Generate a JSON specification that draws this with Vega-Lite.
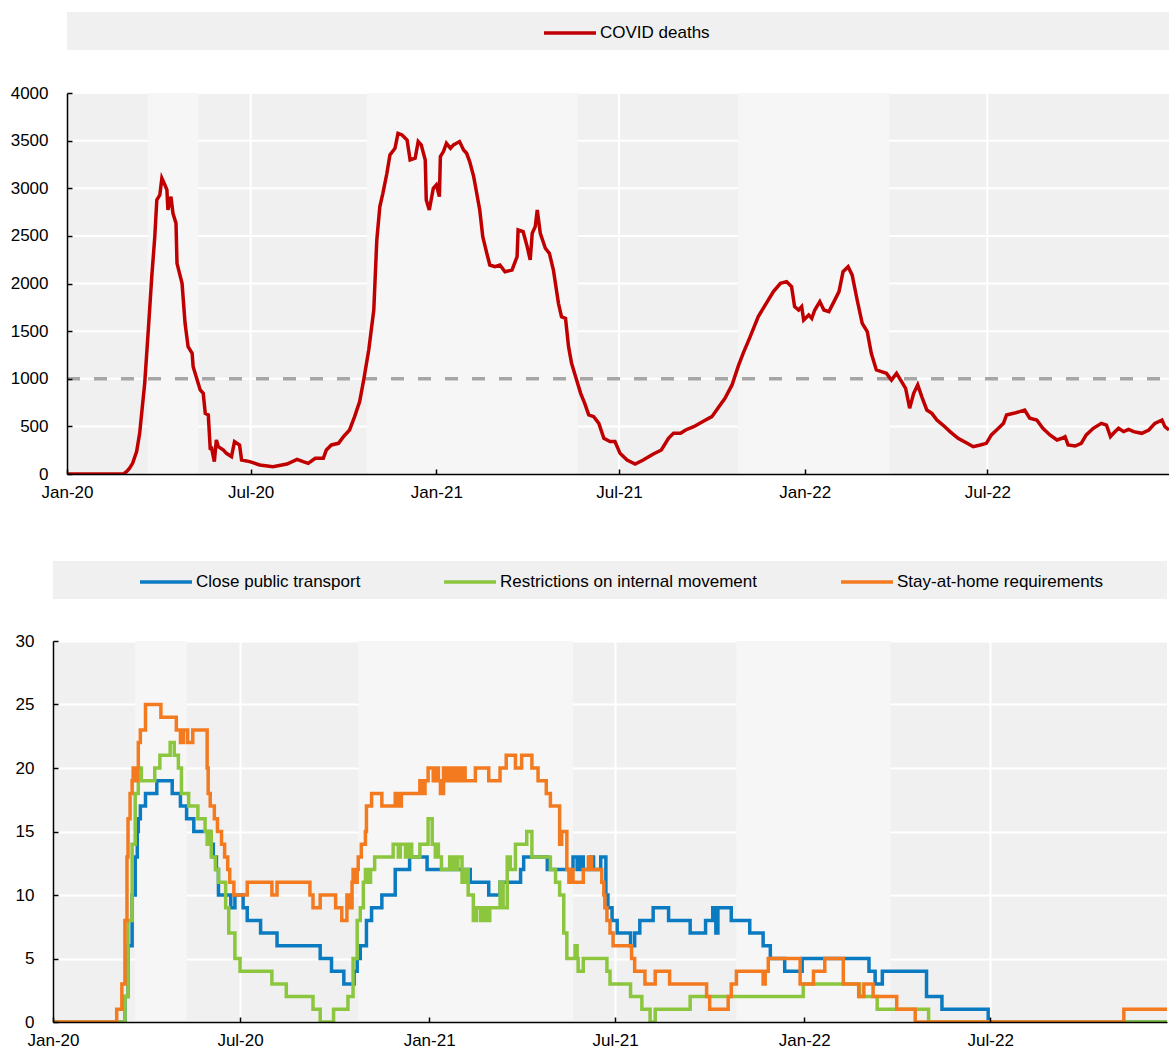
{
  "$schema": "https://vega.github.io/schema/vega-lite/v6.json",
  "padding": {"left": 5, "top": 5, "right": 0, "bottom": 0},
  "background": "white",
  "config": {
    "view": {"stroke": null},
    "axis": {"labelFont": "Liberation Sans", "labelFontSize": 17, "labelColor": "#000000", "title": null},
    "legend": {"labelFont": "Liberation Sans", "labelFontSize": 17, "labelColor": "#000000", "labelLimit": 500}
  },
  "resolve": {"scale": {"color": "independent"}, "legend": {"color": "independent"}},
  "spacing": 54,
  "vconcat": [
    {
      "bounds": "flush",
      "spacing": 43,
      "vconcat": [
        {
          "width": 1116, "height": 38,
          "data": {"values": [{"start": "2020-01-01", "end": "2022-12-28"}]},
          "mark": {"type": "rect", "color": "#f0f0f0"},
          "encoding": {
            "x": {"field": "start", "type": "temporal", "axis": null,
              "scale": {"type": "utc", "domain": [{"year": 2020, "month": 1, "date": 1, "utc": true}, {"year": 2022, "month": 12, "date": 28, "utc": true}], "range": [14, 1116]}},
            "x2": {"field": "end"}
          }
        },
        {
          "width": 1116, "height": 381,
          "resolve": {"axis": {"x": "independent", "y": "independent"}},
          "layer": [
            {
              "data": {"values": [{"start": "2020-01-01", "end": "2022-12-28"}]},
              "mark": {"type": "rect", "color": "#f0f0f0"},
              "encoding": {
                "x": {"field": "start", "type": "temporal", "axis": null,
                  "scale": {"type": "utc", "domain": [{"year": 2020, "month": 1, "date": 1, "utc": true}, {"year": 2022, "month": 12, "date": 28, "utc": true}], "range": [14, 1116]}},
                "x2": {"field": "end"}
              }
            },
            {
              "data": {"values": [{"level": 500}, {"level": 1000}, {"level": 1500}, {"level": 2000}, {"level": 2500}, {"level": 3000}, {"level": 3500}, {"level": 4000}]},
              "mark": {"type": "rule", "color": "#ffffff", "strokeWidth": 2},
              "encoding": {
                "y": {"field": "level", "type": "quantitative", "axis": null, "scale": {"domain": [0, 4000], "nice": false}}
              }
            },
            {
              "data": {"values": [{"tick": "2020-07-01"}, {"tick": "2021-01-01"}, {"tick": "2021-07-01"}, {"tick": "2022-01-01"}, {"tick": "2022-07-01"}]},
              "mark": {"type": "rule", "color": "#ffffff", "strokeWidth": 2},
              "encoding": {
                "x": {"field": "tick", "type": "temporal", "axis": null}
              }
            },
            {
              "data": {"values": [
                {"start": "2020-03-21", "end": "2020-05-10"},
                {"start": "2020-10-24", "end": "2021-05-21"},
                {"start": "2021-10-27", "end": "2022-03-26"}
              ]},
              "mark": {"type": "rect", "color": "#f6f6f6"},
              "encoding": {
                "x": {"field": "start", "type": "temporal", "axis": null},
                "x2": {"field": "end"}
              }
            },
            {
              "data": {"values": [{"threshold": 1000}]},
              "mark": {"type": "rule", "color": "#a6a6a6", "strokeWidth": 3.5, "strokeDash": [13, 14]},
              "encoding": {
                "y": {"field": "threshold", "type": "quantitative", "axis": null},
                "x": {"datum": {"year": 2020, "month": 1, "date": 1, "utc": true}, "type": "temporal", "axis": null},
                "x2": {"datum": {"year": 2022, "month": 12, "date": 28, "utc": true}}
              }
            },
            {
              "data": {"values": [
                {"date": "2020-01-01", "deaths": 0}, {"date": "2020-02-26", "deaths": 0}, {"date": "2020-02-29", "deaths": 25}, {"date": "2020-03-03", "deaths": 60}, {"date": "2020-03-06", "deaths": 112}, {"date": "2020-03-10", "deaths": 235}, {"date": "2020-03-13", "deaths": 427}, {"date": "2020-03-18", "deaths": 952}, {"date": "2020-03-22", "deaths": 1582}, {"date": "2020-03-25", "deaths": 2072}, {"date": "2020-03-28", "deaths": 2492}, {"date": "2020-03-30", "deaths": 2877}, {"date": "2020-04-02", "deaths": 2930}, {"date": "2020-04-04", "deaths": 3105}, {"date": "2020-04-07", "deaths": 3035}, {"date": "2020-04-09", "deaths": 2982}, {"date": "2020-04-10", "deaths": 2772}, {"date": "2020-04-13", "deaths": 2912}, {"date": "2020-04-15", "deaths": 2737}, {"date": "2020-04-18", "deaths": 2632}, {"date": "2020-04-19", "deaths": 2212}, {"date": "2020-04-24", "deaths": 2002}, {"date": "2020-04-27", "deaths": 1582}, {"date": "2020-04-30", "deaths": 1337}, {"date": "2020-05-04", "deaths": 1267}, {"date": "2020-05-05", "deaths": 1127}, {"date": "2020-05-09", "deaths": 987}, {"date": "2020-05-12", "deaths": 882}, {"date": "2020-05-15", "deaths": 847}, {"date": "2020-05-17", "deaths": 637}, {"date": "2020-05-20", "deaths": 620}, {"date": "2020-05-22", "deaths": 252}, {"date": "2020-05-23", "deaths": 287}, {"date": "2020-05-26", "deaths": 130}, {"date": "2020-05-28", "deaths": 357}, {"date": "2020-05-30", "deaths": 287}, {"date": "2020-06-04", "deaths": 252}, {"date": "2020-06-07", "deaths": 217}, {"date": "2020-06-12", "deaths": 182}, {"date": "2020-06-15", "deaths": 340}, {"date": "2020-06-20", "deaths": 305}, {"date": "2020-06-22", "deaths": 147}, {"date": "2020-06-30", "deaths": 130}, {"date": "2020-07-10", "deaths": 95}, {"date": "2020-07-23", "deaths": 77}, {"date": "2020-08-06", "deaths": 105}, {"date": "2020-08-16", "deaths": 154}, {"date": "2020-08-22", "deaths": 130}, {"date": "2020-08-27", "deaths": 112}, {"date": "2020-09-03", "deaths": 165}, {"date": "2020-09-11", "deaths": 165}, {"date": "2020-09-14", "deaths": 252}, {"date": "2020-09-19", "deaths": 305}, {"date": "2020-09-26", "deaths": 322}, {"date": "2020-10-01", "deaths": 392}, {"date": "2020-10-07", "deaths": 462}, {"date": "2020-10-12", "deaths": 602}, {"date": "2020-10-17", "deaths": 760}, {"date": "2020-10-21", "deaths": 987}, {"date": "2020-10-26", "deaths": 1302}, {"date": "2020-10-31", "deaths": 1722}, {"date": "2020-11-03", "deaths": 2457}, {"date": "2020-11-06", "deaths": 2807}, {"date": "2020-11-09", "deaths": 2947}, {"date": "2020-11-13", "deaths": 3157}, {"date": "2020-11-16", "deaths": 3350}, {"date": "2020-11-21", "deaths": 3420}, {"date": "2020-11-24", "deaths": 3577}, {"date": "2020-11-28", "deaths": 3560}, {"date": "2020-12-03", "deaths": 3507}, {"date": "2020-12-06", "deaths": 3297}, {"date": "2020-12-11", "deaths": 3315}, {"date": "2020-12-14", "deaths": 3490}, {"date": "2020-12-17", "deaths": 3455}, {"date": "2020-12-21", "deaths": 3297}, {"date": "2020-12-22", "deaths": 2877}, {"date": "2020-12-25", "deaths": 2772}, {"date": "2020-12-29", "deaths": 3000}, {"date": "2021-01-01", "deaths": 3035}, {"date": "2021-01-04", "deaths": 2912}, {"date": "2021-01-05", "deaths": 3332}, {"date": "2021-01-08", "deaths": 3385}, {"date": "2021-01-11", "deaths": 3472}, {"date": "2021-01-15", "deaths": 3420}, {"date": "2021-01-18", "deaths": 3455}, {"date": "2021-01-24", "deaths": 3490}, {"date": "2021-01-28", "deaths": 3402}, {"date": "2021-01-31", "deaths": 3367}, {"date": "2021-02-03", "deaths": 3280}, {"date": "2021-02-07", "deaths": 3122}, {"date": "2021-02-10", "deaths": 2947}, {"date": "2021-02-13", "deaths": 2772}, {"date": "2021-02-16", "deaths": 2492}, {"date": "2021-02-20", "deaths": 2317}, {"date": "2021-02-23", "deaths": 2194}, {"date": "2021-02-28", "deaths": 2177}, {"date": "2021-03-05", "deaths": 2194}, {"date": "2021-03-10", "deaths": 2124}, {"date": "2021-03-17", "deaths": 2142}, {"date": "2021-03-22", "deaths": 2282}, {"date": "2021-03-23", "deaths": 2562}, {"date": "2021-03-28", "deaths": 2544}, {"date": "2021-04-01", "deaths": 2387}, {"date": "2021-04-04", "deaths": 2247}, {"date": "2021-04-06", "deaths": 2527}, {"date": "2021-04-09", "deaths": 2597}, {"date": "2021-04-11", "deaths": 2772}, {"date": "2021-04-14", "deaths": 2527}, {"date": "2021-04-19", "deaths": 2370}, {"date": "2021-04-23", "deaths": 2317}, {"date": "2021-04-27", "deaths": 2142}, {"date": "2021-05-02", "deaths": 1792}, {"date": "2021-05-05", "deaths": 1652}, {"date": "2021-05-09", "deaths": 1634}, {"date": "2021-05-12", "deaths": 1337}, {"date": "2021-05-15", "deaths": 1162}, {"date": "2021-05-19", "deaths": 1022}, {"date": "2021-05-24", "deaths": 847}, {"date": "2021-05-28", "deaths": 742}, {"date": "2021-06-01", "deaths": 620}, {"date": "2021-06-06", "deaths": 602}, {"date": "2021-06-11", "deaths": 532}, {"date": "2021-06-16", "deaths": 375}, {"date": "2021-06-22", "deaths": 340}, {"date": "2021-06-27", "deaths": 340}, {"date": "2021-07-02", "deaths": 217}, {"date": "2021-07-09", "deaths": 147}, {"date": "2021-07-17", "deaths": 105}, {"date": "2021-07-25", "deaths": 147}, {"date": "2021-08-04", "deaths": 210}, {"date": "2021-08-12", "deaths": 252}, {"date": "2021-08-19", "deaths": 375}, {"date": "2021-08-24", "deaths": 427}, {"date": "2021-08-31", "deaths": 427}, {"date": "2021-09-05", "deaths": 462}, {"date": "2021-09-13", "deaths": 497}, {"date": "2021-09-23", "deaths": 557}, {"date": "2021-10-01", "deaths": 602}, {"date": "2021-10-08", "deaths": 707}, {"date": "2021-10-14", "deaths": 795}, {"date": "2021-10-21", "deaths": 935}, {"date": "2021-10-27", "deaths": 1127}, {"date": "2021-11-01", "deaths": 1267}, {"date": "2021-11-08", "deaths": 1442}, {"date": "2021-11-16", "deaths": 1652}, {"date": "2021-11-23", "deaths": 1775}, {"date": "2021-12-01", "deaths": 1915}, {"date": "2021-12-08", "deaths": 2002}, {"date": "2021-12-14", "deaths": 2020}, {"date": "2021-12-19", "deaths": 1967}, {"date": "2021-12-22", "deaths": 1757}, {"date": "2021-12-26", "deaths": 1722}, {"date": "2021-12-29", "deaths": 1757}, {"date": "2021-12-31", "deaths": 1617}, {"date": "2022-01-05", "deaths": 1670}, {"date": "2022-01-08", "deaths": 1634}, {"date": "2022-01-11", "deaths": 1722}, {"date": "2022-01-16", "deaths": 1810}, {"date": "2022-01-20", "deaths": 1722}, {"date": "2022-01-25", "deaths": 1705}, {"date": "2022-01-30", "deaths": 1810}, {"date": "2022-02-04", "deaths": 1915}, {"date": "2022-02-08", "deaths": 2124}, {"date": "2022-02-13", "deaths": 2177}, {"date": "2022-02-17", "deaths": 2090}, {"date": "2022-02-22", "deaths": 1827}, {"date": "2022-02-27", "deaths": 1582}, {"date": "2022-03-04", "deaths": 1494}, {"date": "2022-03-08", "deaths": 1267}, {"date": "2022-03-13", "deaths": 1092}, {"date": "2022-03-18", "deaths": 1075}, {"date": "2022-03-23", "deaths": 1057}, {"date": "2022-03-28", "deaths": 987}, {"date": "2022-04-02", "deaths": 1057}, {"date": "2022-04-07", "deaths": 970}, {"date": "2022-04-11", "deaths": 900}, {"date": "2022-04-15", "deaths": 690}, {"date": "2022-04-19", "deaths": 847}, {"date": "2022-04-23", "deaths": 935}, {"date": "2022-04-27", "deaths": 812}, {"date": "2022-05-02", "deaths": 672}, {"date": "2022-05-07", "deaths": 637}, {"date": "2022-05-12", "deaths": 567}, {"date": "2022-05-18", "deaths": 514}, {"date": "2022-05-25", "deaths": 445}, {"date": "2022-06-02", "deaths": 375}, {"date": "2022-06-11", "deaths": 322}, {"date": "2022-06-17", "deaths": 287}, {"date": "2022-06-24", "deaths": 305}, {"date": "2022-06-30", "deaths": 322}, {"date": "2022-07-05", "deaths": 410}, {"date": "2022-07-12", "deaths": 480}, {"date": "2022-07-17", "deaths": 532}, {"date": "2022-07-20", "deaths": 620}, {"date": "2022-07-27", "deaths": 637}, {"date": "2022-08-02", "deaths": 655}, {"date": "2022-08-07", "deaths": 672}, {"date": "2022-08-12", "deaths": 585}, {"date": "2022-08-19", "deaths": 567}, {"date": "2022-08-25", "deaths": 480}, {"date": "2022-09-01", "deaths": 410}, {"date": "2022-09-08", "deaths": 357}, {"date": "2022-09-13", "deaths": 375}, {"date": "2022-09-16", "deaths": 392}, {"date": "2022-09-19", "deaths": 305}, {"date": "2022-09-26", "deaths": 294}, {"date": "2022-10-02", "deaths": 322}, {"date": "2022-10-07", "deaths": 410}, {"date": "2022-10-14", "deaths": 480}, {"date": "2022-10-22", "deaths": 532}, {"date": "2022-10-27", "deaths": 514}, {"date": "2022-10-31", "deaths": 392}, {"date": "2022-11-03", "deaths": 427}, {"date": "2022-11-08", "deaths": 480}, {"date": "2022-11-13", "deaths": 445}, {"date": "2022-11-18", "deaths": 469}, {"date": "2022-11-23", "deaths": 445}, {"date": "2022-12-01", "deaths": 427}, {"date": "2022-12-08", "deaths": 462}, {"date": "2022-12-14", "deaths": 532}, {"date": "2022-12-21", "deaths": 567}, {"date": "2022-12-24", "deaths": 497}, {"date": "2022-12-28", "deaths": 462}
              ]},
              "mark": {"type": "line", "strokeWidth": 3.5, "clip": true},
              "encoding": {
                "x": {"field": "date", "type": "temporal",
                  "axis": {"orient": "bottom", "grid": false, "format": "%b-%y", "labelFlush": false, "labelOverlap": false,
                    "domainColor": "#000000", "domainWidth": 1.5, "tickColor": "#000000", "tickWidth": 1.5, "tickSize": -5, "labelPadding": 15, "zindex": 1,
                    "values": [{"year": 2020, "month": 1, "date": 1, "utc": true}, {"year": 2020, "month": 7, "date": 1, "utc": true}, {"year": 2021, "month": 1, "date": 1, "utc": true}, {"year": 2021, "month": 7, "date": 1, "utc": true}, {"year": 2022, "month": 1, "date": 1, "utc": true}, {"year": 2022, "month": 7, "date": 1, "utc": true}]}},
                "y": {"field": "deaths", "type": "quantitative",
                  "axis": {"orient": "left", "grid": false, "format": "d", "offset": -14, "domainColor": "#000000", "domainWidth": 1.5, "tickColor": "#000000", "tickWidth": 1.5, "tickSize": -5, "labelPadding": 24, "zindex": 1, "minExtent": 0, "maxExtent": 40,
                    "values": [0, 500, 1000, 1500, 2000, 2500, 3000, 3500, 4000]}},
                "color": {"datum": "COVID deaths", "type": "nominal",
                  "scale": {"domain": ["COVID deaths"], "range": ["#c00000"]},
                  "legend": {"title": null, "orient": "none", "legendX": 489, "legendY": -7, "direction": "horizontal", "padding": 0,
                    "symbolType": "stroke", "symbolSize": 2704, "symbolStrokeWidth": 3.5, "labelOffset": 2}}
              }
            }
          ]
        }
      ]
    },
    {
      "bounds": "flush",
      "spacing": 42,
      "vconcat": [
        {
          "width": 1114, "height": 38,
          "data": {"values": [{"panel": "legend band"}]},
          "mark": {"type": "rect", "color": "#f0f0f0"},
          "encoding": {}
        },
        {
          "width": 1114, "height": 381,
          "view": {"fill": "#f0f0f0", "stroke": null},
          "resolve": {"axis": {"x": "independent", "y": "independent"}},
          "layer": [
            {
              "data": {"values": [
                {"start": "2020-03-21", "end": "2020-05-10", "level": 0},
                {"start": "2020-10-24", "end": "2021-05-21", "level": 0},
                {"start": "2021-10-27", "end": "2022-03-26", "level": 0}
              ]},
              "mark": {"type": "rect", "color": "#f6f6f6"},
              "encoding": {
                "x": {"field": "start", "type": "temporal",
                  "scale": {"type": "utc", "domain": [{"year": 2020, "month": 1, "date": 1, "utc": true}, {"year": 2022, "month": 12, "date": 20, "utc": true}]},
                  "axis": {"orient": "bottom", "grid": true, "gridColor": "#ffffff", "gridWidth": 2, "labels": false, "ticks": false, "domain": false, "zindex": 0,
                    "values": [{"year": 2020, "month": 1, "date": 1, "utc": true}, {"year": 2020, "month": 7, "date": 1, "utc": true}, {"year": 2021, "month": 1, "date": 1, "utc": true}, {"year": 2021, "month": 7, "date": 1, "utc": true}, {"year": 2022, "month": 1, "date": 1, "utc": true}, {"year": 2022, "month": 7, "date": 1, "utc": true}]}},
                "x2": {"field": "end"},
                "y": {"field": "level", "type": "quantitative",
                  "scale": {"domain": [0, 30], "nice": false},
                  "axis": {"orient": "left", "grid": true, "gridColor": "#ffffff", "gridWidth": 2, "labels": false, "ticks": false, "domain": false, "zindex": 0,
                    "values": [0, 5, 10, 15, 20, 25, 30]}},
                "y2": {"datum": 30}
              }
            },
            {
              "data": {"values": [
                {"date": "2020-01-01", "value": 0}, {"date": "2020-03-11", "value": 2}, {"date": "2020-03-14", "value": 6}, {"date": "2020-03-18", "value": 10}, {"date": "2020-03-21", "value": 13}, {"date": "2020-03-23", "value": 15}, {"date": "2020-03-24", "value": 16}, {"date": "2020-03-26", "value": 17}, {"date": "2020-03-31", "value": 18}, {"date": "2020-04-11", "value": 19}, {"date": "2020-04-26", "value": 18}, {"date": "2020-05-04", "value": 17}, {"date": "2020-05-10", "value": 16}, {"date": "2020-05-17", "value": 15}, {"date": "2020-06-02", "value": 14}, {"date": "2020-06-05", "value": 13}, {"date": "2020-06-08", "value": 12}, {"date": "2020-06-10", "value": 10}, {"date": "2020-06-22", "value": 9}, {"date": "2020-06-26", "value": 10}, {"date": "2020-07-04", "value": 9}, {"date": "2020-07-08", "value": 8}, {"date": "2020-07-21", "value": 7}, {"date": "2020-08-06", "value": 6}, {"date": "2020-09-17", "value": 5}, {"date": "2020-09-28", "value": 4}, {"date": "2020-10-10", "value": 3}, {"date": "2020-10-20", "value": 4}, {"date": "2020-10-23", "value": 5}, {"date": "2020-10-26", "value": 6}, {"date": "2020-11-01", "value": 8}, {"date": "2020-11-06", "value": 9}, {"date": "2020-11-16", "value": 10}, {"date": "2020-11-29", "value": 12}, {"date": "2020-12-13", "value": 13}, {"date": "2020-12-30", "value": 12}, {"date": "2021-02-10", "value": 11}, {"date": "2021-02-28", "value": 10}, {"date": "2021-03-11", "value": 11}, {"date": "2021-03-31", "value": 12}, {"date": "2021-04-03", "value": 13}, {"date": "2021-04-26", "value": 12}, {"date": "2021-05-21", "value": 13}, {"date": "2021-05-25", "value": 12}, {"date": "2021-05-28", "value": 13}, {"date": "2021-05-31", "value": 12}, {"date": "2021-06-07", "value": 13}, {"date": "2021-06-10", "value": 12}, {"date": "2021-06-17", "value": 13}, {"date": "2021-06-22", "value": 10}, {"date": "2021-06-24", "value": 9}, {"date": "2021-06-28", "value": 8}, {"date": "2021-07-03", "value": 7}, {"date": "2021-07-16", "value": 6}, {"date": "2021-07-20", "value": 7}, {"date": "2021-07-25", "value": 8}, {"date": "2021-08-07", "value": 9}, {"date": "2021-08-22", "value": 8}, {"date": "2021-09-12", "value": 7}, {"date": "2021-09-27", "value": 8}, {"date": "2021-10-04", "value": 9}, {"date": "2021-10-07", "value": 7}, {"date": "2021-10-09", "value": 9}, {"date": "2021-10-22", "value": 8}, {"date": "2021-11-09", "value": 7}, {"date": "2021-11-22", "value": 6}, {"date": "2021-11-29", "value": 5}, {"date": "2021-12-13", "value": 4}, {"date": "2021-12-30", "value": 5}, {"date": "2022-03-05", "value": 4}, {"date": "2022-03-11", "value": 3}, {"date": "2022-03-18", "value": 4}, {"date": "2022-04-30", "value": 2}, {"date": "2022-05-15", "value": 1}, {"date": "2022-06-29", "value": 0}, {"date": "2022-12-31", "value": 0}
              ]},
              "mark": {"type": "line", "strokeWidth": 3.5, "interpolate": "step-after", "clip": true},
              "encoding": {
                "x": {"field": "date", "type": "temporal",
                  "axis": {"orient": "bottom", "grid": false, "format": "%b-%y", "labelFlush": false, "labelOverlap": false,
                    "domainColor": "#000000", "domainWidth": 1.5, "tickColor": "#000000", "tickWidth": 1.5, "tickSize": -5, "labelPadding": 15, "zindex": 1,
                    "values": [{"year": 2020, "month": 1, "date": 1, "utc": true}, {"year": 2020, "month": 7, "date": 1, "utc": true}, {"year": 2021, "month": 1, "date": 1, "utc": true}, {"year": 2021, "month": 7, "date": 1, "utc": true}, {"year": 2022, "month": 1, "date": 1, "utc": true}, {"year": 2022, "month": 7, "date": 1, "utc": true}]}},
                "y": {"field": "value", "type": "quantitative",
                  "axis": {"orient": "left", "grid": false, "format": "d", "domainColor": "#000000", "domainWidth": 1.5, "tickColor": "#000000", "tickWidth": 1.5, "tickSize": -5, "labelPadding": 24, "zindex": 1, "minExtent": 48, "maxExtent": 48,
                    "values": [0, 5, 10, 15, 20, 25, 30]}},
                "color": {"datum": "Close public transport", "type": "nominal",
                  "scale": {"domain": ["Close public transport", "Restrictions on internal movement", "Stay-at-home requirements"], "range": ["#0b7bc1", "#8cc63f", "#f47a20"]},
                  "legend": {"title": null, "orient": "none", "legendX": 85, "legendY": -7, "direction": "horizontal", "padding": 0, "columnPadding": 76,
                    "symbolType": "stroke", "symbolSize": 2704, "symbolStrokeWidth": 3.5, "labelOffset": 2}}
              }
            },
            {
              "data": {"values": [
                {"date": "2020-01-01", "value": 0}, {"date": "2020-03-11", "value": 2}, {"date": "2020-03-14", "value": 8}, {"date": "2020-03-18", "value": 14}, {"date": "2020-03-21", "value": 18}, {"date": "2020-03-24", "value": 20}, {"date": "2020-03-27", "value": 19}, {"date": "2020-04-09", "value": 20}, {"date": "2020-04-14", "value": 21}, {"date": "2020-04-24", "value": 22}, {"date": "2020-04-28", "value": 21}, {"date": "2020-05-02", "value": 20}, {"date": "2020-05-05", "value": 18}, {"date": "2020-05-12", "value": 17}, {"date": "2020-05-21", "value": 16}, {"date": "2020-05-28", "value": 15}, {"date": "2020-05-30", "value": 14}, {"date": "2020-05-31", "value": 15}, {"date": "2020-06-03", "value": 13}, {"date": "2020-06-07", "value": 12}, {"date": "2020-06-10", "value": 11}, {"date": "2020-06-17", "value": 9}, {"date": "2020-06-20", "value": 7}, {"date": "2020-06-26", "value": 5}, {"date": "2020-07-01", "value": 4}, {"date": "2020-08-01", "value": 3}, {"date": "2020-08-15", "value": 2}, {"date": "2020-09-10", "value": 1}, {"date": "2020-09-17", "value": 0}, {"date": "2020-09-30", "value": 1}, {"date": "2020-10-14", "value": 2}, {"date": "2020-10-19", "value": 5}, {"date": "2020-10-23", "value": 8}, {"date": "2020-10-26", "value": 9}, {"date": "2020-10-29", "value": 11}, {"date": "2020-10-31", "value": 12}, {"date": "2020-11-02", "value": 11}, {"date": "2020-11-05", "value": 12}, {"date": "2020-11-09", "value": 13}, {"date": "2020-11-27", "value": 14}, {"date": "2020-12-02", "value": 13}, {"date": "2020-12-04", "value": 14}, {"date": "2020-12-09", "value": 13}, {"date": "2020-12-12", "value": 14}, {"date": "2020-12-15", "value": 13}, {"date": "2020-12-23", "value": 14}, {"date": "2020-12-31", "value": 16}, {"date": "2021-01-04", "value": 14}, {"date": "2021-01-07", "value": 13}, {"date": "2021-01-08", "value": 14}, {"date": "2021-01-10", "value": 13}, {"date": "2021-01-13", "value": 12}, {"date": "2021-01-21", "value": 13}, {"date": "2021-01-23", "value": 12}, {"date": "2021-01-25", "value": 13}, {"date": "2021-01-26", "value": 12}, {"date": "2021-01-29", "value": 13}, {"date": "2021-02-02", "value": 11}, {"date": "2021-02-05", "value": 12}, {"date": "2021-02-08", "value": 10}, {"date": "2021-02-13", "value": 8}, {"date": "2021-02-16", "value": 9}, {"date": "2021-02-20", "value": 8}, {"date": "2021-02-23", "value": 9}, {"date": "2021-02-26", "value": 8}, {"date": "2021-03-01", "value": 9}, {"date": "2021-03-11", "value": 11}, {"date": "2021-03-14", "value": 9}, {"date": "2021-03-18", "value": 13}, {"date": "2021-03-21", "value": 12}, {"date": "2021-03-26", "value": 14}, {"date": "2021-04-06", "value": 15}, {"date": "2021-04-11", "value": 13}, {"date": "2021-04-29", "value": 12}, {"date": "2021-05-04", "value": 11}, {"date": "2021-05-08", "value": 10}, {"date": "2021-05-12", "value": 7}, {"date": "2021-05-15", "value": 5}, {"date": "2021-05-23", "value": 6}, {"date": "2021-05-25", "value": 5}, {"date": "2021-05-26", "value": 4}, {"date": "2021-05-31", "value": 5}, {"date": "2021-06-23", "value": 4}, {"date": "2021-06-26", "value": 3}, {"date": "2021-07-16", "value": 2}, {"date": "2021-07-27", "value": 1}, {"date": "2021-08-04", "value": 0}, {"date": "2021-08-09", "value": 1}, {"date": "2021-09-12", "value": 2}, {"date": "2021-12-31", "value": 3}, {"date": "2022-02-24", "value": 2}, {"date": "2022-03-13", "value": 1}, {"date": "2022-05-02", "value": 0}, {"date": "2022-12-31", "value": 0}
              ]},
              "mark": {"type": "line", "strokeWidth": 3.5, "interpolate": "step-after", "clip": true},
              "encoding": {
                "x": {"field": "date", "type": "temporal", "axis": null},
                "y": {"field": "value", "type": "quantitative", "axis": null},
                "color": {"datum": "Restrictions on internal movement", "type": "nominal"}
              }
            },
            {
              "data": {"values": [
                {"date": "2020-01-01", "value": 0}, {"date": "2020-03-03", "value": 1}, {"date": "2020-03-08", "value": 3}, {"date": "2020-03-11", "value": 8}, {"date": "2020-03-13", "value": 13}, {"date": "2020-03-14", "value": 16}, {"date": "2020-03-16", "value": 18}, {"date": "2020-03-18", "value": 19}, {"date": "2020-03-19", "value": 20}, {"date": "2020-03-21", "value": 19}, {"date": "2020-03-23", "value": 20}, {"date": "2020-03-24", "value": 22}, {"date": "2020-03-26", "value": 23}, {"date": "2020-03-31", "value": 25}, {"date": "2020-04-15", "value": 24}, {"date": "2020-04-30", "value": 23}, {"date": "2020-05-04", "value": 22}, {"date": "2020-05-07", "value": 23}, {"date": "2020-05-11", "value": 22}, {"date": "2020-05-16", "value": 23}, {"date": "2020-05-30", "value": 20}, {"date": "2020-05-31", "value": 18}, {"date": "2020-06-02", "value": 17}, {"date": "2020-06-06", "value": 16}, {"date": "2020-06-09", "value": 15}, {"date": "2020-06-13", "value": 14}, {"date": "2020-06-16", "value": 13}, {"date": "2020-06-19", "value": 12}, {"date": "2020-06-21", "value": 11}, {"date": "2020-06-25", "value": 10}, {"date": "2020-07-08", "value": 11}, {"date": "2020-08-01", "value": 10}, {"date": "2020-08-06", "value": 11}, {"date": "2020-09-07", "value": 10}, {"date": "2020-09-10", "value": 9}, {"date": "2020-09-17", "value": 10}, {"date": "2020-10-02", "value": 9}, {"date": "2020-10-08", "value": 8}, {"date": "2020-10-13", "value": 10}, {"date": "2020-10-15", "value": 9}, {"date": "2020-10-18", "value": 11}, {"date": "2020-10-19", "value": 12}, {"date": "2020-10-21", "value": 11}, {"date": "2020-10-23", "value": 12}, {"date": "2020-10-24", "value": 13}, {"date": "2020-10-27", "value": 14}, {"date": "2020-10-31", "value": 15}, {"date": "2020-11-01", "value": 17}, {"date": "2020-11-06", "value": 18}, {"date": "2020-11-16", "value": 17}, {"date": "2020-11-29", "value": 18}, {"date": "2020-12-02", "value": 17}, {"date": "2020-12-05", "value": 18}, {"date": "2020-12-23", "value": 19}, {"date": "2020-12-25", "value": 18}, {"date": "2020-12-28", "value": 19}, {"date": "2020-12-31", "value": 20}, {"date": "2021-01-05", "value": 19}, {"date": "2021-01-07", "value": 20}, {"date": "2021-01-10", "value": 19}, {"date": "2021-01-12", "value": 18}, {"date": "2021-01-15", "value": 20}, {"date": "2021-01-18", "value": 19}, {"date": "2021-01-20", "value": 20}, {"date": "2021-01-21", "value": 19}, {"date": "2021-01-23", "value": 20}, {"date": "2021-01-25", "value": 19}, {"date": "2021-01-26", "value": 20}, {"date": "2021-01-28", "value": 19}, {"date": "2021-01-30", "value": 20}, {"date": "2021-01-31", "value": 19}, {"date": "2021-02-03", "value": 20}, {"date": "2021-02-05", "value": 19}, {"date": "2021-02-15", "value": 20}, {"date": "2021-02-28", "value": 19}, {"date": "2021-03-11", "value": 20}, {"date": "2021-03-17", "value": 21}, {"date": "2021-03-26", "value": 20}, {"date": "2021-04-01", "value": 21}, {"date": "2021-04-11", "value": 20}, {"date": "2021-04-17", "value": 19}, {"date": "2021-04-25", "value": 18}, {"date": "2021-04-29", "value": 17}, {"date": "2021-05-08", "value": 14}, {"date": "2021-05-10", "value": 15}, {"date": "2021-05-15", "value": 12}, {"date": "2021-05-17", "value": 11}, {"date": "2021-05-20", "value": 12}, {"date": "2021-05-21", "value": 11}, {"date": "2021-05-31", "value": 12}, {"date": "2021-06-05", "value": 13}, {"date": "2021-06-08", "value": 12}, {"date": "2021-06-18", "value": 11}, {"date": "2021-06-20", "value": 10}, {"date": "2021-06-21", "value": 9}, {"date": "2021-06-23", "value": 8}, {"date": "2021-06-26", "value": 7}, {"date": "2021-06-29", "value": 6}, {"date": "2021-07-17", "value": 5}, {"date": "2021-07-20", "value": 4}, {"date": "2021-07-30", "value": 3}, {"date": "2021-08-09", "value": 4}, {"date": "2021-08-23", "value": 3}, {"date": "2021-09-28", "value": 2}, {"date": "2021-10-01", "value": 1}, {"date": "2021-10-19", "value": 2}, {"date": "2021-10-22", "value": 3}, {"date": "2021-10-27", "value": 4}, {"date": "2021-11-22", "value": 3}, {"date": "2021-11-24", "value": 4}, {"date": "2021-11-27", "value": 5}, {"date": "2021-12-28", "value": 3}, {"date": "2022-01-10", "value": 4}, {"date": "2022-01-21", "value": 5}, {"date": "2022-02-08", "value": 3}, {"date": "2022-02-23", "value": 2}, {"date": "2022-02-28", "value": 3}, {"date": "2022-03-09", "value": 2}, {"date": "2022-04-01", "value": 1}, {"date": "2022-04-19", "value": 0}, {"date": "2022-11-08", "value": 1}, {"date": "2022-12-31", "value": 1}
              ]},
              "mark": {"type": "line", "strokeWidth": 3.5, "interpolate": "step-after", "clip": true},
              "encoding": {
                "x": {"field": "date", "type": "temporal", "axis": null},
                "y": {"field": "value", "type": "quantitative", "axis": null},
                "color": {"datum": "Stay-at-home requirements", "type": "nominal"}
              }
            }
          ]
        }
      ]
    }
  ]
}
